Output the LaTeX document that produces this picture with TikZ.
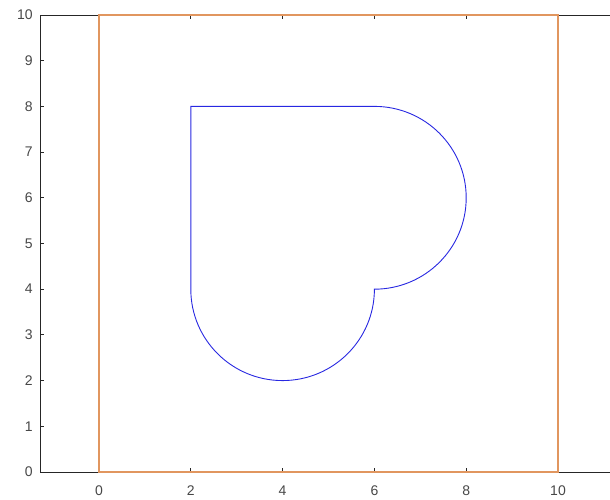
\documentclass[tikz,border=0pt]{standalone}
\usepackage{fontspec}
\setmainfont{Liberation Sans}
\definecolor{axisgray}{HTML}{262626}
\definecolor{boxorange}{RGB}{225,150,95}
\definecolor{heartblue}{RGB}{40,40,225}
\begin{document}
\begin{tikzpicture}[x=45.9pt,y=45.7pt,
  axisline/.style={draw=axisgray,line width=0.8pt},
  tickmark/.style={draw=axisgray,line width=0.8pt},
  ticklabel/.style={font=\fontsize{14}{15}\selectfont,text=axisgray!85,inner sep=0pt},
  boxline/.style={draw=boxorange,line width=1.1pt},
  heartline/.style={draw=heartblue,line width=0.9pt}]
\useasboundingbox (-2.157,-0.6127) rectangle (11.133,10.328);
% axes
\coordinate (bl) at (-1.285,0);
\coordinate (tl) at (-1.285,10);
\coordinate (br) at (11.2,0);
\coordinate (tr) at (11.2,10);
\draw[axisline] (br) -- (bl) -- (tl) -- (tr);
% y ticks and labels
\foreach \y in {0,...,10}{
  \draw[tickmark] (-1.285,\y) -- ++(0.09,0);
  \node[ticklabel,anchor=east] (yl\y) at (-1.44,\y) {\y};
}
% x ticks and labels
\foreach \x in {0,2,...,10}{
  \draw[tickmark] (\x,0) -- ++(0,0.09);
  \draw[tickmark] (\x,10) -- ++(0,-0.09);
  \node[ticklabel] (xl\x) at (\x,-0.4) {\x};
}
% orange square
\draw[boxline] (0,0) rectangle (10,10);
% heart shape
\draw[heartline] (2,8) -- (6,8) arc[start angle=90,end angle=-90,radius=2]
  arc[start angle=0,end angle=-180,radius=2] -- cycle;
\end{tikzpicture}
\end{document}
